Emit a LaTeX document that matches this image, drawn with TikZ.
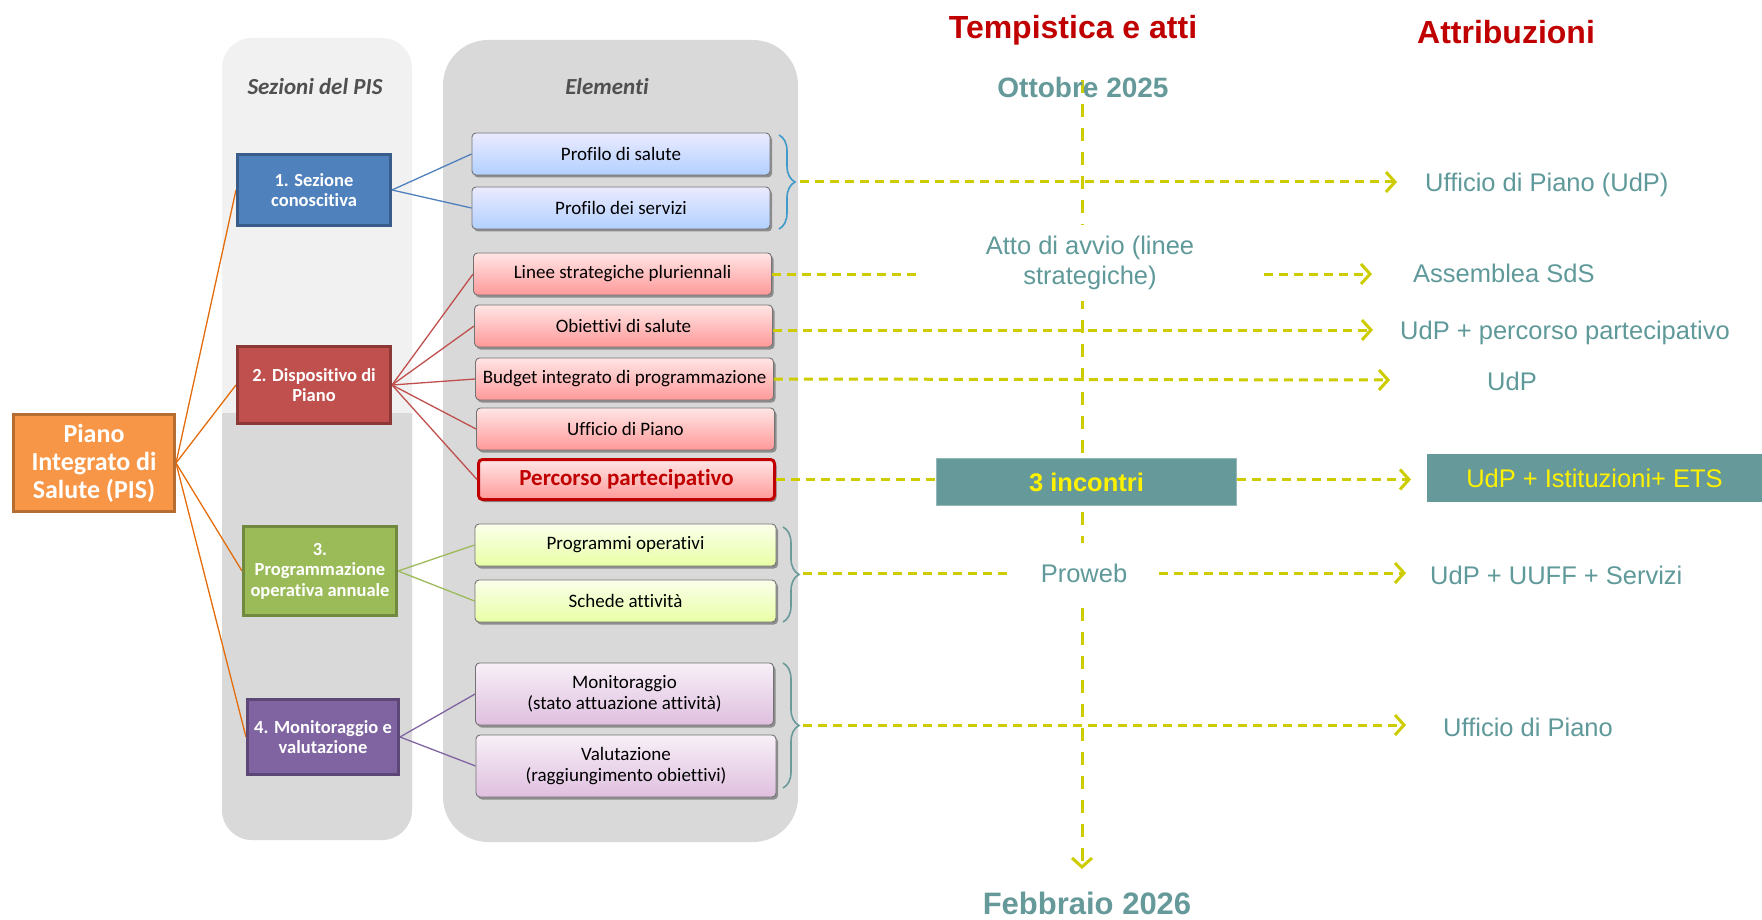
\documentclass[tikz,border=0pt]{standalone}
\usepackage{fontspec}
\setmainfont{Carlito}[Ligatures=CommonOff]
\newfontfamily\arialf{Liberation Sans}
\usetikzlibrary{arrows.meta,shadows,decorations.pathreplacing}
\pgfdeclarelayer{cols}
\pgfdeclarelayer{bg}
\pgfsetlayers{cols,bg,main}
\definecolor{secblue}{HTML}{4F81BD}\definecolor{secblueD}{HTML}{385D8A}
\definecolor{secred}{HTML}{C0504D}\definecolor{secredD}{HTML}{8C3836}
\definecolor{secgreen}{HTML}{9BBB59}\definecolor{secgreenD}{HTML}{71893F}
\definecolor{secpurple}{HTML}{8064A2}\definecolor{secpurpleD}{HTML}{5C4776}
\definecolor{pisor}{HTML}{F79646}\definecolor{pisorD}{HTML}{B66D31}
\definecolor{connor}{HTML}{E46C0A}
\definecolor{tealC}{HTML}{669999}
\definecolor{tealT}{HTML}{5F9999}
\definecolor{dashY}{HTML}{CCCC00}
\definecolor{darkred}{HTML}{C00000}
\definecolor{colLight}{HTML}{F1F1F1}
\definecolor{colDark}{HTML}{D9D9D9}
\definecolor{headgray}{HTML}{505050}
\definecolor{braceT}{HTML}{6A9A9A}
\newcommand\fElem{\fontsize{19}{21}\selectfont}
\newcommand\fSec{\bfseries\fontsize{18.5}{20.5}\selectfont}
\newcommand\fRight{\arialf\fontsize{25.5}{29.5}\selectfont}
\begin{document}
\begin{tikzpicture}[x=1pt,y=-1pt,
  >={Straight Barb[length=9pt,width=20pt]},
  sec/.style={draw, line width=3pt, inner sep=0pt, text=white, font=\fSec, align=center},
  pisbox/.style={draw=pisorD, fill=pisor, line width=3pt, inner sep=0pt, text=white,
    font=\bfseries\fontsize{26}{28}\selectfont, align=center, minimum width=161, minimum height=97},
  elem/.style={draw=black!55, line width=0.9pt, rounded corners=4pt, inner sep=0pt,
    minimum width=298, minimum height=42, font=\fElem, align=center,
    drop shadow={shadow xshift=2pt, shadow yshift=-2.5pt, opacity=0.35, fill=black}},
  conn/.style={line width=1.3pt},
  braceS/.style={decorate, decoration={brace, amplitude=16pt}, line width=1.6pt},
  hdash/.style={draw=dashY, line width=3pt, dash pattern=on 9pt off 6pt},
  vdash/.style={draw=dashY, line width=3pt, dash pattern=on 13pt off 11pt},
  rlab/.style={font=\fRight, text=tealT, inner sep=0pt, anchor=base west},
  head/.style={font=\bfseries\itshape\fontsize{23}{25}\selectfont, text=headgray}
]
\useasboundingbox (0,0) rectangle (1762,920);

% ---- column backgrounds
\begin{pgfonlayer}{cols}
\fill[colLight, rounded corners=30pt] (222,38) rectangle (412,840);
\begin{scope}
\clip (200,413) rectangle (430,860);
\fill[colDark, rounded corners=30pt] (222,38) rectangle (412,840);
\end{scope}
\fill[colDark, rounded corners=45pt] (443,40) rectangle (798,842);
\end{pgfonlayer}

\node[head] (hsez) at (315,87) {Sezioni del PIS};
\node[head] (hele) at (607,87) {Elementi};

% ---- left: PIS and sections
\node[pisbox] (pis) at (94,463) {Piano\\Integrato di\\Salute (PIS)};
\node[sec, fill=secblue, draw=secblueD, minimum width=153, minimum height=71] (s1) at (314,190) {1. Sezione\\conoscitiva};
\node[sec, fill=secred, draw=secredD, minimum width=153, minimum height=77] (s2) at (314,385) {2. Dispositivo di\\Piano};
\node[sec, fill=secgreen, draw=secgreenD, minimum width=153, minimum height=89] (s3) at (320,571) {3.\\Programmazione\\operativa annuale};
\node[sec, fill=secpurple, draw=secpurpleD, minimum width=151, minimum height=75] (s4) at (323,737) {4. Monitoraggio e\\valutazione};

% ---- elements
\node[elem, top color=blue!8!white, bottom color=blue!22!cyan!18!white!85!blue] (e1) at (621,154) {Profilo di salute};
\node[elem, top color=blue!8!white, bottom color=blue!22!cyan!18!white!85!blue] (e2) at (621,208) {Profilo dei servizi};
\node[elem, top color=red!10!white, bottom color=red!40!white] (e3) at (622.5,274) {Linee strategiche pluriennali};
\node[elem, top color=red!10!white, bottom color=red!40!white] (e4) at (623.5,326) {Obiettivi di salute};
\node[elem, top color=red!10!white, bottom color=red!40!white] (e5) at (624.5,379) {Budget integrato di programmazione};
\node[elem, top color=red!10!white, bottom color=red!40!white] (e6) at (625.5,429) {Ufficio di Piano};
\node[elem, top color=red!10!white, bottom color=red!40!white, draw=darkred, line width=3pt,
  minimum width=296, minimum height=40, text=darkred, font=\bfseries\fontsize{23}{25}\selectfont] (e7) at (626.5,479.5) {Percorso partecipativo};
\node[elem, top color=lime!8!white, bottom color=lime!35!white, minimum width=301] (e8) at (625.5,545) {Programmi operativi};
\node[elem, top color=lime!8!white, bottom color=lime!35!white, minimum width=301] (e9) at (625.5,601) {Schede attività};
\node[elem, top color=violet!6!white, bottom color=violet!25!white, minimum height=62] (e10) at (624.5,694) {Monitoraggio\\(stato attuazione attività)};
\node[elem, top color=violet!6!white, bottom color=violet!25!white, minimum height=62, minimum width=300] (e11) at (626,766) {Valutazione\\(raggiungimento obiettivi)};

% ---- connectors (behind boxes)
\begin{pgfonlayer}{bg}
\foreach \s in {s1,s2,s3,s4} \draw[conn, connor] (pis.east) -- (\s.west);
\foreach \e in {e1,e2} \draw[conn, secblue] (s1.east) -- (\e.west);
\foreach \e in {e3,e4,e5,e6,e7} \draw[conn, secred] (s2.east) -- (\e.west);
\foreach \e in {e8,e9} \draw[conn, secgreen] (s3.east) -- (\e.west);
\foreach \e in {e10,e11} \draw[conn, secpurple] (s4.east) -- (\e.west);
% timeline
\coordinate (vtop) at (1082,80);
\coordinate (vbot) at (1082,869);
\draw[vdash, ->] (vtop) -- (vbot);
\end{pgfonlayer}

% ---- braces
\draw[braceS, secblue!80!cyan] (779,135) -- (779,229);
\draw[braceS, braceT] (783,527) -- (783,622);
\draw[braceS, braceT] (783,663) -- (783,788);
\coordinate (bt1) at (800,182);
\coordinate (bt2) at (803,573);
\coordinate (bt3) at (803,725);

% ---- right side texts
\node[font=\arialf\bfseries\fontsize{32}{34}\selectfont, text=darkred, anchor=base, inner sep=0pt] (tempi) at (1073,39) {Tempistica e atti};
\node[font=\arialf\bfseries\fontsize{32}{34}\selectfont, text=darkred, anchor=base, inner sep=0pt] (attr) at (1506,44) {Attribuzioni};
\node[font=\arialf\bfseries\fontsize{28}{30}\selectfont, text=tealC, anchor=base, inner sep=0pt] (otto) at (1083,98) {Ottobre 2025};
\node[font=\arialf\bfseries\fontsize{31}{33}\selectfont, text=tealC, anchor=base, inner sep=0pt] (febb) at (1087,914) {Febbraio 2026};

\node[font=\fRight, text=tealT, fill=white, align=center, inner xsep=69.5pt, inner ysep=11pt] (atto) at (1090,263) {Atto di avvio (linee\\strategiche)};
\node[font=\fRight, text=tealT, fill=white, inner xsep=32pt, inner ysep=21pt] (proweb) at (1084,573) {Proweb};
\node[fill=tealC, draw=tealC!70!white, line width=1pt, minimum width=300, minimum height=47, inner sep=0pt,
  font=\arialf\bfseries\fontsize{25.5}{28}\selectfont, text=yellow] (inc) at (1086.5,482) {3 incontri};
\node[fill=tealC, minimum width=335, minimum height=48, inner sep=0pt,
  font=\fRight, text=yellow] (ist) at (1594.5,478) {UdP + Istituzioni+ ETS};

\node[rlab] (l1) at (1425,192) {Ufficio di Piano (UdP)};
\node[rlab] (l2) at (1413,283) {Assemblea SdS};
\node[rlab] (l3) at (1400,339) {UdP + percorso partecipativo};
\node[rlab] (l4) at (1487,390) {UdP};
\node[rlab] (l6) at (1430,584) {UdP + UUFF + Servizi};
\node[rlab] (l7) at (1443,736) {Ufficio di Piano};

% ---- arrow targets
\coordinate (t1) at (1397,182);
\coordinate (t2) at (1372,274);
\coordinate (t3) at (1373,330);
\coordinate (t4) at (1390,380);
\coordinate (t5) at (1411,479.5);
\coordinate (t6) at (1406,573);
\coordinate (t7) at (1406,725);

% ---- horizontal dashed connectors
\draw[hdash, ->] (bt1) -- (t1);
\draw[hdash] (e3.east) -- (e3.east -| atto.west);
\draw[hdash, ->] (atto.east |- t2) -- (t2);
\draw[hdash, ->] ([yshift=-4pt]e4.east) -- (t3);
\draw[hdash, ->] (e5.east) -- (t4);
\draw[hdash] (e7.east) -- (e7.east -| inc.west);
\draw[hdash, ->] (e7.east -| inc.east) -- (t5);
\draw[hdash] (bt2) -- (proweb.west);
\draw[hdash, ->] (proweb.east) -- (t6);
\draw[hdash, ->] (bt3) -- (t7);
\end{tikzpicture}
\end{document}
